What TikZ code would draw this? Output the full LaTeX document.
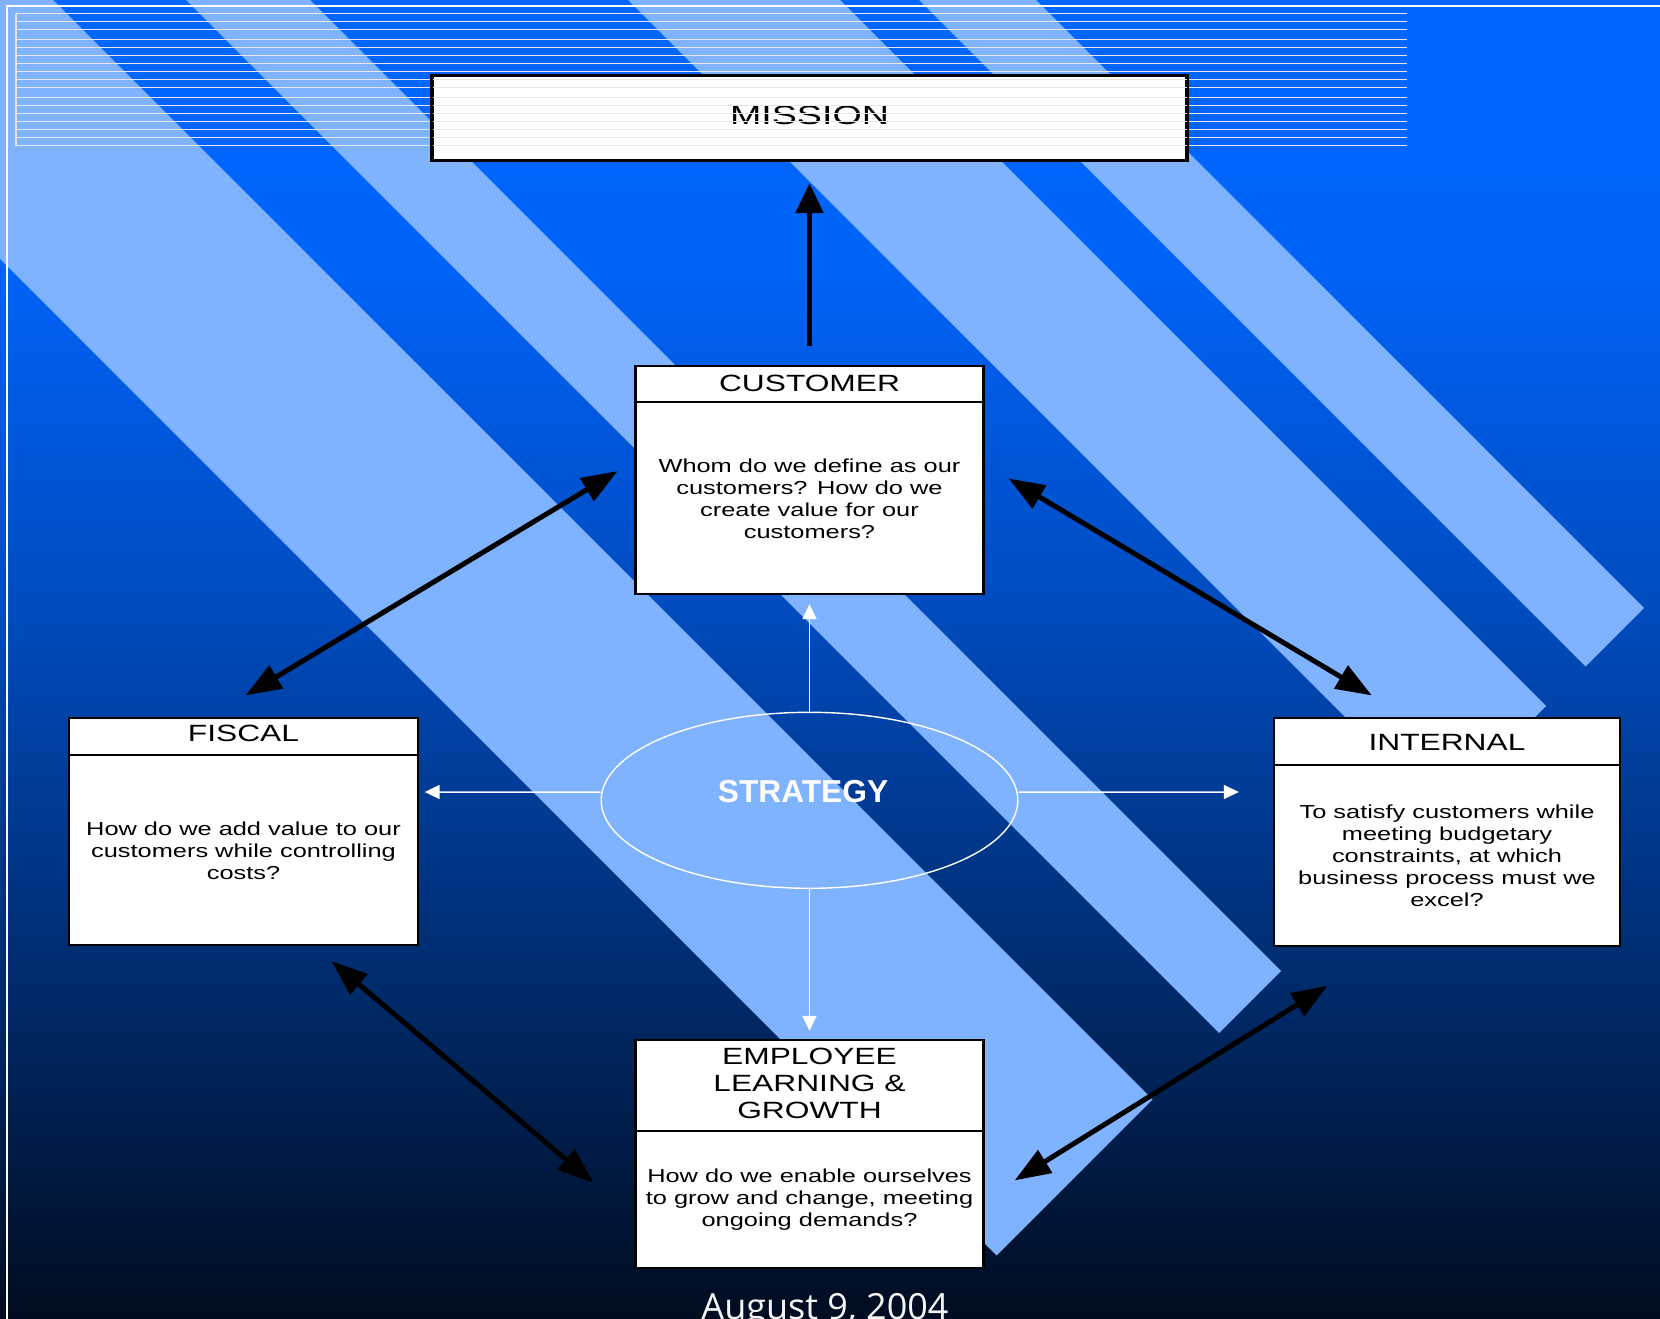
\documentclass[tikz,border=0pt]{standalone}
\usepackage{fontspec}
\setmainfont{Liberation Sans}
\newfontfamily\boxfont{Liberation Sans}[FakeStretch=1.35]
\newfontfamily\missionfont{Liberation Sans}[FakeStretch=1.42]
\newfontfamily\datefont{Open Sans}
\usetikzlibrary{arrows.meta,shapes.geometric,calc}

\definecolor{bandlight}{RGB}{127,178,255}
\definecolor{ruleline}{RGB}{230,230,230}
\definecolor{datewhite}{RGB}{245,245,245}

% vertical background: deep navy at the foot, bright blue at the head
\pgfdeclareverticalshading{slidebg}{100bp}{%
  rgb(0bp)=(0,0.047,0.125);
  rgb(25bp)=(0,0.047,0.125);
  rgb(39bp)=(0,0.180,0.451);
  rgb(52.25bp)=(0,0.298,0.753);
  rgb(65.5bp)=(0,0.392,0.980);
  rgb(75bp)=(0,0.4,1);
  rgb(100bp)=(0,0.4,1)}

\begin{document}
\begin{tikzpicture}[x=1bp,y=1bp,
  panel/.style={draw=black, line width=2.3bp, fill=white, inner sep=0pt,
                minimum width=348bp, minimum height=228bp},
  divider/.style={draw=black, line width=2.3bp},
  ttl/.style={font=\boxfont\fontsize{23.5bp}{27bp}\selectfont, align=center, inner sep=0pt},
  bdy/.style={font=\boxfont\fontsize{18.8bp}{22bp}\selectfont, align=center, inner sep=0pt},
  stripe/.style={draw=ruleline, line width=1.4bp},
  frameline/.style={draw=white, line width=2bp},
  warrow/.style={draw=white, line width=1.5bp, -{Triangle[length=15bp,width=14bp]}},
  barrow/.style={draw=black, line width=5bp,
                 {Triangle[length=36bp,width=26bp]}-{Triangle[length=36bp,width=26bp]}},
  uparrow/.style={draw=black, line width=5.5bp, -{Triangle[length=30bp,width=27bp]}}
]
\useasboundingbox (0,-1319) rectangle (1660,0);
\begin{scope}
\clip (0,-1319) rectangle (1660,0);

% background and diagonal light bands
\shade[shading=slidebg] (0,-1319) rectangle (1660,0);
\fill[bandlight] (-759,500) -- (-447,500) -- (1152.5,-1099.5) -- (996.5,-1255.5) -- cycle;
\fill[bandlight] (-314,500) -- (-190,500) -- (1281,-971) -- (1219,-1033) -- cycle;
\fill[bandlight] (128,500) -- (340,500) -- (1546,-706) -- (1440,-812) -- cycle;
\fill[bandlight] (419,500) -- (536,500) -- (1644,-608) -- (1585.5,-666.5) -- cycle;

% slide frame
\draw[frameline] (7,-1330) -- (7,-6) -- (1670,-6);

% mission banner with the ruled lines across it
\node[panel, minimum width=754bp, minimum height=84bp] (mission) at (809.5,-118) {};
\node[font=\missionfont\fontsize{26.5bp}{30bp}\selectfont, inner sep=0pt] (missiontext) at (809.5,-115.7) {MISSION};
\foreach \yy in {13.7,21.7,29.7,39.7,47.7,55.7,63.7,71.7,79.7,87.7,97.7,105.7,113.7,121.7,129.7,137.7,145.7}
  \draw[stripe] (16,-\yy) -- (1407,-\yy);
\draw[stripe] (16,-13.7) -- (16,-145.7);
\draw[line width=2.3bp] (mission.south west) rectangle (mission.north east);

% perspective boxes
\node[panel] (customer) at (809.5,-480) {};
\draw[divider] ([yshift=-37bp]customer.north west) -- ([yshift=-37bp]customer.north east);
\node[ttl] (customertitle) at ([yshift=-18.5bp]customer.north) {CUSTOMER};
\node[bdy] (customerbody) at (809.5,-498.5) {Whom do we define as our\\customers? How do we\\create value for our\\customers?};

\node[panel, minimum width=349bp, minimum height=227bp] (fiscal) at (243.5,-831.5) {};
\draw[divider] ([yshift=-38bp]fiscal.north west) -- ([yshift=-38bp]fiscal.north east);
\node[ttl] (fiscaltitle) at ([yshift=-17bp]fiscal.north) {FISCAL};
\node[bdy] (fiscalbody) at (243.5,-850.5) {How do we add value to our\\customers while controlling\\costs?};

\node[panel, minimum width=346bp] (internal) at (1447,-832) {};
\draw[divider] ([yshift=-48bp]internal.north west) -- ([yshift=-48bp]internal.north east);
\node[ttl] (internaltitle) at ([yshift=-25.4bp]internal.north) {INTERNAL};
\node[bdy] (internalbody) at (1447,-856) {To satisfy customers while\\meeting budgetary\\constraints, at which\\business process must we\\excel?};

\node[panel] (employee) at (809.5,-1154) {};
\draw[divider] ([yshift=-92bp]employee.north west) -- ([yshift=-92bp]employee.north east);
\node[ttl] (employeetitle) at ([yshift=-44.7bp]employee.north) {EMPLOYEE\\LEARNING \&\\GROWTH};
\node[bdy] (employeebody) at (809.5,-1200) {How do we enable ourselves\\to grow and change, meeting\\ongoing demands?};

% strategy hub
\node[draw=white, line width=1.4bp, ellipse, minimum width=416.6bp, minimum height=176bp, inner sep=0pt] (strategy) at (809.5,-800.3) {};
\node[font=\bfseries\fontsize{31.7bp}{36bp}\selectfont, text=white, inner sep=0pt] (strategylabel) at (803,-792) {STRATEGY};

\draw[warrow] (strategy.north) -- ([yshift=-9bp]customer.south);
\draw[warrow] (strategy.south) -- ([yshift=8bp]employee.north);
\draw[warrow] ([yshift=8.3bp]strategy.west) -- ($(fiscal.east |- strategylabel)+(5.5,0)$);
\draw[warrow] ([yshift=8.3bp]strategy.east) -- ($(internal.west |- strategylabel)+(-34,0)$);

% links between the perspectives
\draw[uparrow] ([yshift=19bp]customer.north) -- ([yshift=-22bp]customer.north |- mission.south);
\draw[barrow] ([shift={(2bp,21.4bp)}]fiscal.north) -- ([shift={(-16.7bp,8.9bp)}]customer.west);
\draw[barrow] ([shift={(23.9bp,1.5bp)}]customer.east) -- ([shift={(99bp,21.4bp)}]internal.north west);
\draw[barrow] ([shift={(88bp,-15bp)}]fiscal.south) -- ([shift={(-41bp,-28.6bp)}]employee.west);
\draw[barrow] ([shift={(30bp,-26.4bp)}]employee.east) -- ([shift={(54.7bp,-38.6bp)}]internal.south west);

% date line
\node[font=\datefont\fontsize{36bp}{40bp}\selectfont, text=datewhite, anchor=base, inner sep=0pt] (date) at (825,-1319) {August 9, 2004};
\end{scope}
\end{tikzpicture}
\end{document}
